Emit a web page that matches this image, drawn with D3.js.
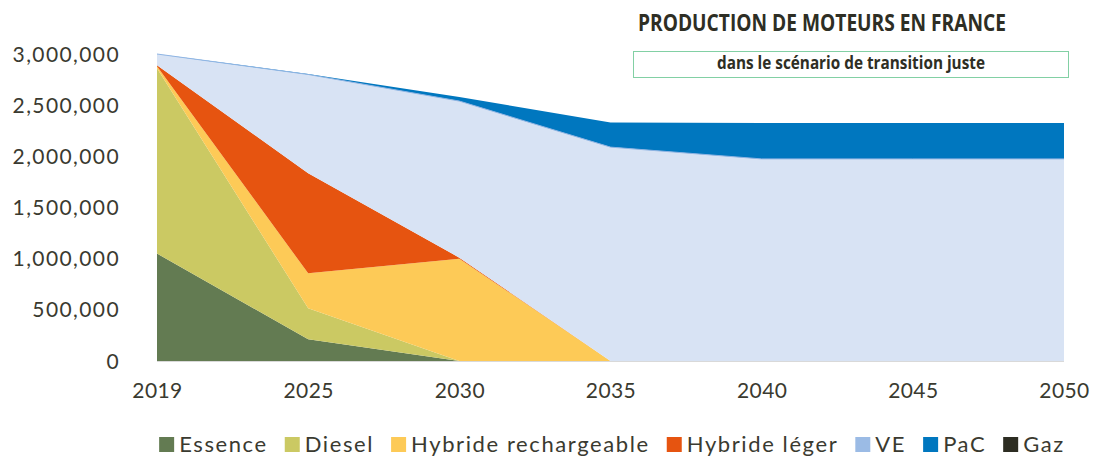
<!DOCTYPE html>
<html>
<head>
<meta charset="utf-8">
<script src="https://cdn.jsdelivr.net/npm/d3@7"></script>
<style>
  body { margin: 0; background: #fff; }
  svg { display: block; }
  .tick text { font-family: Lato, "Open Sans", sans-serif; font-weight: 400; fill: #3a3a30; }
</style>
</head>
<body>
<svg id="chart" width="1096" height="456"></svg>
<script>
// years on the x axis (equally spaced categories)
const years = ["2019", "2025", "2030", "2035", "2040", "2045", "2050"];

// series values, number of engines
const essence  = [1050000, 212000,       0,       0,       0,       0,       0];
const diesel   = [1810000, 303000,       0,       0,       0,       0,       0];
const hybRech  = [  20000, 342000, 1000000,       0,       0,       0,       0];
const hybLeger = [  10000, 977000,   10000,       0,       0,       0,       0];
const ve       = [ 110000, 966000, 1530000, 2090000, 1975000, 1975000, 1975000];
const pac      = [      0,   5000,   40000,  240000,  350000,  350000,  350000];
const gaz      = [      0,      0,       0,       0,       0,       0,       0];

const seriesNames  = ["Essence", "Diesel", "Hybride rechargeable", "Hybride léger", "VE", "PaC", "Gaz"];
const seriesValues = [essence, diesel, hybRech, hybLeger, ve, pac, gaz];
const fillColors   = ["#637b52", "#cbc963", "#fdca57", "#e65410", "#d8e3f4", "#0077bf", "#2d2d22"];
const swatchColors = ["#637b52", "#cbc963", "#fdca57", "#e65410", "#9bbbe5", "#0077bf", "#2d2d22"];

const yTicks = [0, 500000, 1000000, 1500000, 2000000, 2500000, 3000000];

// build the table d3.stack needs
const table = years.map((yr, i) => {
  const row = {year: yr};
  seriesNames.forEach((n, k) => row[n] = seriesValues[k][i]);
  return row;
});

const svg = d3.select("#chart");

const x = d3.scalePoint().domain(years).range([157, 1064]);
const y = d3.scaleLinear().domain([0, 3000000]).range([361, 54]);

const stacked = d3.stack().keys(seriesNames)(table);

const area = d3.area()
    .x(d => x(d.data.year))
    .y0(d => y(d[0]))
    .y1(d => y(d[1]));

// areas
svg.append("g")
  .selectAll("path")
  .data(stacked)
  .join("path")
    .attr("fill", (d, i) => fillColors[i])
    .attr("d", area);

// thin edge on top of the VE area
const veLayer = stacked[seriesNames.indexOf("VE")];
svg.append("path")
    .datum(veLayer)
    .attr("fill", "none")
    .attr("stroke", "#8fb4e3")
    .attr("stroke-width", 1)
    .attr("d", d3.line().x(d => x(d.data.year)).y(d => y(d[1])));

// baseline
svg.append("line")
    .attr("x1", x(years[0])).attr("x2", x(years[years.length - 1]))
    .attr("y1", y(0) + 0.5).attr("y2", y(0) + 0.5)
    .attr("stroke", "#d9d9d9").attr("stroke-width", 1);

// y axis
const yAxis = svg.append("g")
    .attr("transform", "translate(138,0)")
    .call(d3.axisLeft(y).tickValues(yTicks).tickFormat(d3.format(",")).tickSize(0).tickPadding(18));
yAxis.select(".domain").remove();
yAxis.selectAll("text")
    .attr("font-size", 21)
    .attr("letter-spacing", "1.4px")
    .attr("dy", "0.34em");

// x axis
const xAxis = svg.append("g")
    .attr("transform", "translate(0,361)")
    .call(d3.axisBottom(x).tickSize(0).tickPadding(26));
xAxis.select(".domain").remove();
xAxis.selectAll("text")
    .attr("font-size", 21)
    .attr("letter-spacing", "0.4px")
    .attr("dy", "0.5em");

// title
svg.append("text")
    .attr("x", 638).attr("y", 31)
    .attr("font-family", "'Open Sans', sans-serif")
    .attr("font-weight", 700)
    .attr("font-size", 23)
    .attr("textLength", 368)
    .attr("lengthAdjust", "spacingAndGlyphs")
    .attr("fill", "#2e2e24")
    .text("PRODUCTION DE MOTEURS EN FRANCE");

// subtitle box
svg.append("rect")
    .attr("x", 633.5).attr("y", 51.5)
    .attr("width", 435).attr("height", 26)
    .attr("fill", "#fff")
    .attr("stroke", "#82d0a4").attr("stroke-width", 1);
svg.append("text")
    .attr("x", 851).attr("y", 69)
    .attr("text-anchor", "middle")
    .attr("font-family", "'Open Sans', sans-serif")
    .attr("font-weight", 700)
    .attr("font-size", 17)
    .attr("textLength", 268)
    .attr("lengthAdjust", "spacingAndGlyphs")
    .attr("fill", "#2e2e24")
    .text("dans le scénario de transition juste");

// legend
const legend = svg.append("g").attr("class", "legend");
const items = legend.selectAll("g")
  .data(seriesNames)
  .join("g");
items.append("rect")
    .attr("y", 437)
    .attr("width", 15).attr("height", 15)
    .attr("fill", (d, i) => swatchColors[i]);
items.append("text")
    .attr("x", 20).attr("y", 452)
    .attr("font-family", "Lato, sans-serif")
    .attr("font-weight", 400)
    .attr("font-size", 22)
    .attr("letter-spacing", "1.6px")
    .attr("fill", "#3a3a30")
    .text(d => d);

const widths = [];
items.each(function () {
  const w = 20 + d3.select(this).select("text").node().getComputedTextLength();
  widths.push(w);
});
const gap = 17;
const total = d3.sum(widths) + gap * (widths.length - 1);
let cur = 612 - total / 2;
items.attr("transform", (d, i) => {
  const t = "translate(" + cur + ",0)";
  cur += widths[i] + gap;
  return t;
});
</script>
</body>
</html>
